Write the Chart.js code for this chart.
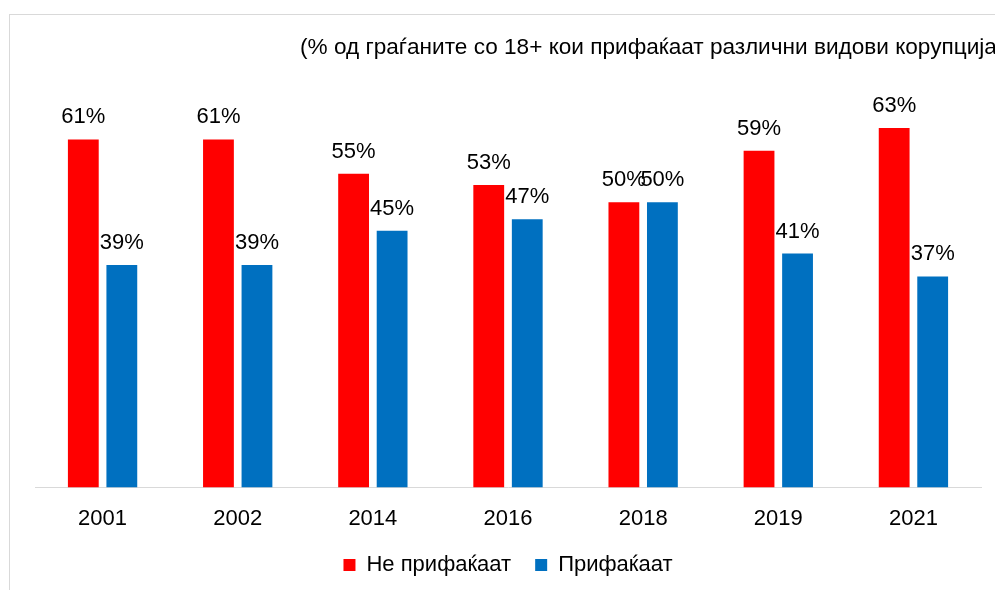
<!DOCTYPE html>
<html>
<head>
<meta charset="utf-8">
<script src="https://cdn.jsdelivr.net/npm/chart.js@4.4.1/dist/chart.umd.min.js"></script>
<style>
html,body{margin:0;padding:0;background:#fff;overflow:hidden;}
#wrap{position:relative;width:995px;height:590px;}
#frame{position:absolute;left:9px;top:14px;width:1100px;height:700px;border-left:1px solid #d9d9d9;border-top:1px solid #d9d9d9;box-sizing:border-box;}
canvas{position:absolute;left:0;top:0;}
</style>
</head>
<body>
<div id="wrap">
<div id="frame"></div>
<canvas id="c" width="995" height="590"></canvas>
</div>
<script>
const categories = ["2001","2002","2014","2016","2018","2019","2021"];
const notAccept = [61,61,55,53,50,59,63];
const accept = [39,39,45,47,50,41,37];
const seriesNames = ["Не прифаќаат","Прифаќаат"];
const titleText = "(% од граѓаните со 18+ кои прифаќаат различни видови корупција)";

const FONT = "'Liberation Sans', Arial, sans-serif";
const FS = 22;

const labelPlugin = {
  id: 'valueLabels',
  afterDatasetsDraw(chart) {
    const ctx = chart.ctx;
    ctx.save();
    ctx.font = FS + "px " + FONT;
    ctx.fillStyle = "#000";
    ctx.textAlign = "center";
    ctx.textBaseline = "bottom";
    chart.data.datasets.forEach((ds, i) => {
      const meta = chart.getDatasetMeta(i);
      meta.data.forEach((bar, j) => {
        ctx.fillText(ds.data[j] + "%", bar.x, bar.y - 11);
      });
    });
    ctx.restore();
  }
};

const titlePlugin = {
  id: 'cutTitle',
  afterDraw(chart) {
    const ctx = chart.ctx;
    ctx.save();
    ctx.font = "22.6px " + FONT;
    ctx.fillStyle = "#000";
    ctx.textAlign = "left";
    ctx.textBaseline = "middle";
    ctx.fillText(titleText, 300, 48);
    ctx.restore();
  }
};

new Chart(document.getElementById('c'), {
  type: 'bar',
  data: {
    labels: categories,
    datasets: [
      {label: seriesNames[0], data: notAccept, backgroundColor: '#FF0000', borderWidth: 0},
      {label: seriesNames[1], data: accept, backgroundColor: '#0070C0', borderWidth: 0}
    ]
  },
  options: {
    responsive: false,
    animation: false,
    devicePixelRatio: 1,
    layout: {padding: {left: 35, right: 14, top: 88, bottom: 4}},
    datasets: {bar: {categoryPercentage: 0.57, barPercentage: 0.8}},
    scales: {
      x: {
        grid: {display: false, drawTicks: false},
        border: {display: true, color: '#d9d9d9', width: 1},
        ticks: {color: '#000', font: {family: FONT, size: FS}, padding: 18},
        afterFit: (s) => { s.height -= 20; }
      },
      y: {display: false, min: 0, max: 70}
    },
    plugins: {
      legend: {
        position: 'bottom',
        labels: {color: '#000', font: {family: FONT, size: FS}, boxWidth: 12, boxHeight: 12, padding: 24}
      },
      tooltip: {enabled: false},
      title: {display: false}
    }
  },
  plugins: [labelPlugin, titlePlugin]
});
</script>
</body>
</html>
